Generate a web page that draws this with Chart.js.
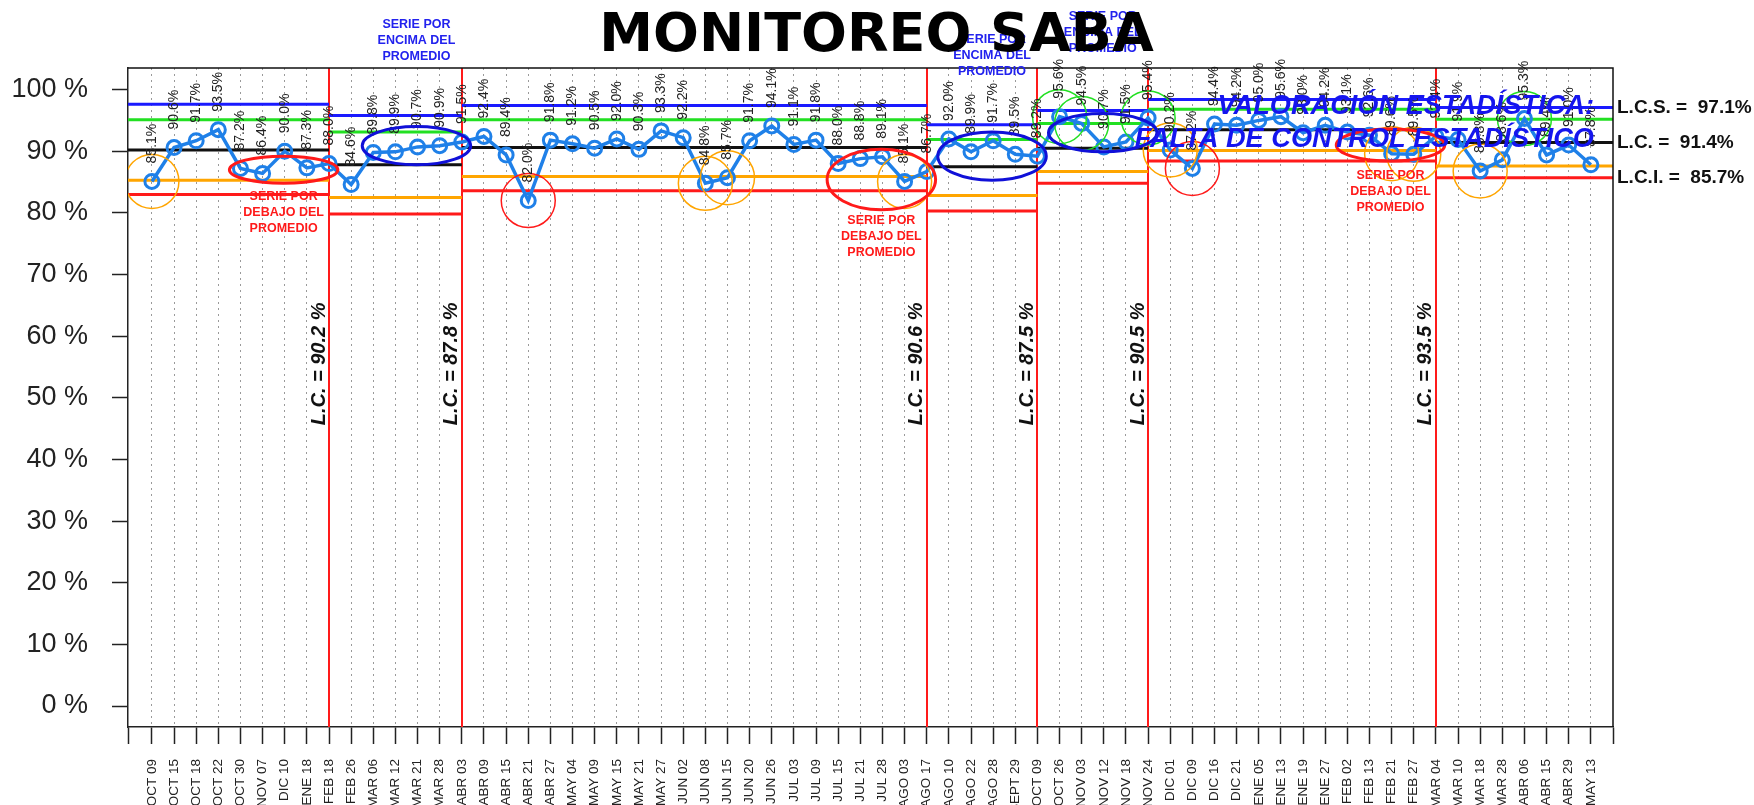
<!DOCTYPE html>
<html>
<head>
<meta charset="utf-8">
<script src="https://cdn.jsdelivr.net/npm/chart.js@4.4.0/dist/chart.umd.min.js"></script>
<style>
  html, body { margin: 0; padding: 0; background: #fff; }
</style>
</head>
<body>
<canvas id="monitoreo" width="1754" height="805"></canvas>
<script>
var fechas = ['OCT 09','OCT 15','OCT 18','OCT 22','OCT 30','NOV 07','DIC 10','ENE 18','FEB 18','FEB 26',
  'MAR 06','MAR 12','MAR 21','MAR 28','ABR 03','ABR 09','ABR 15','ABR 21','ABR 27','MAY 04',
  'MAY 09','MAY 15','MAY 21','MAY 27','JUN 02','JUN 08','JUN 15','JUN 20','JUN 26','JUL 03',
  'JUL 09','JUL 15','JUL 21','JUL 28','AGO 03','AGO 17','AGO 10','AGO 22','AGO 28','SEPT 29',
  'OCT 09','OCT 26','NOV 03','NOV 12','NOV 18','NOV 24','DIC 01','DIC 09','DIC 16','DIC 21',
  'ENE 05','ENE 13','ENE 19','ENE 27','FEB 02','FEB 13','FEB 21','FEB 27','MAR 04','MAR 10',
  'MAR 18','MAR 28','ABR 06','ABR 15','ABR 29','MAY 13'];

var porcentajes = [85.1, 90.6, 91.7, 93.5, 87.2, 86.4, 90.0, 87.3, 88.0, 84.6,
  89.8, 89.9, 90.7, 90.9, 91.5, 92.4, 89.4, 82.0, 91.8, 91.2,
  90.5, 92.0, 90.3, 93.3, 92.2, 84.8, 85.7, 91.7, 94.1, 91.1,
  91.8, 88.0, 88.8, 89.1, 85.1, 86.7, 92.0, 89.9, 91.7, 89.5,
  89.2, 95.6, 94.5, 90.7, 91.5, 95.4, 90.2, 87.2, 94.4, 94.2,
  95.0, 95.6, 93.0, 94.2, 93.1, 92.6, 89.6, 89.5, 92.4, 91.9,
  86.8, 88.6, 95.3, 89.4, 91.0, 87.8];

// cambio de fase: indice de la fecha donde cierra cada tramo
var cortes = [8, 14, 35, 40, 45, 58];
var lcsTramo  = [97.6, 95.8, 97.4, 94.3, 96.6, 98.4, 97.1];
var sup2Tramo = [95.1, 93.1, 95.1, 91.9, 94.5, 96.8, 95.2];
var lcTramo   = [90.2, 87.8, 90.6, 87.5, 90.5, 93.5, 91.4];
var inf2Tramo = [85.3, 82.5, 85.9, 82.8, 86.7, 90.1, 87.6];
var lciTramo  = [83.0, 79.8, 83.6, 80.3, 84.8, 88.4, 85.7];

// puntos señalados
var puntosNaranja = [0, 25, 26, 34, 46, 56, 57, 60];
var puntosRojos = [17, 47];
var puntosVerdes = [41, 42, 45, 62];

var yTicks = [0, 10, 20, 30, 40, 50, 60, 70, 80, 90, 100];

var xMin = -1.08, xMax = 66;
var yMin = -3.4, yMax = 103.5;

var ROJO = '#ff1a1a', AZUL = '#1a1aff', VERDE = '#22e022', NARANJA = '#ffa500', NEGRO = '#111111';
var AZUL_SERIE = '#1f80e8', AZUL_ELIPSE = '#1010d8';
var FUENTE = '"Liberation Sans", Arial, sans-serif';

var txtBajo = ['SERIE POR', 'DEBAJO DEL', 'PROMEDIO'];
var txtEncima = ['SERIE POR', 'ENCIMA DEL', 'PROMEDIO'];

// rachas marcadas con elipse (centro y alto en % del eje)
var elipses = [
  { desde: 4,  hasta: 8,  centro: 87.0, alto: 2.2, color: ROJO, lineas: txtBajo, textoEn: 82.6 },
  { desde: 10, hasta: 14, centro: 90.9, alto: 3.1, color: AZUL_ELIPSE, lineas: txtEncima, textoEn: 110.5 },
  { desde: 31, hasta: 35, centro: 85.4, alto: 4.9, color: ROJO, lineas: txtBajo, textoEn: 78.8 },
  { desde: 36, hasta: 40, centro: 89.2, alto: 3.9, color: AZUL_ELIPSE, lineas: txtEncima, textoEn: 108.1 },
  { desde: 41, hasta: 45, centro: 93.0, alto: 3.1, color: AZUL_ELIPSE, lineas: txtEncima, textoEn: 111.9 },
  { desde: 54, hasta: 58, centro: 91.0, alto: 2.6, color: ROJO, lineas: txtBajo, textoEn: 86.0 }
];

function tramoLinea(valores) {
  var bordes = [xMin].concat(cortes).concat([xMax]);
  var pts = [];
  valores.forEach(function (v, s) {
    pts.push({ x: bordes[s], y: v });
    pts.push({ x: bordes[s + 1], y: v });
    pts.push({ x: bordes[s + 1], y: null });
  });
  return pts;
}

function lineaControl(valores, color) {
  return {
    type: 'line', data: tramoLinea(valores), borderColor: color, borderWidth: 3,
    pointRadius: 0, spanGaps: false, order: 5, borderCapStyle: 'butt'
  };
}

function circulos(indices, color) {
  return {
    type: 'line', showLine: false, order: 0,
    data: indices.map(function (i) { return { x: i, y: porcentajes[i] }; }),
    pointRadius: 27, pointBorderWidth: 1.5, pointBorderColor: color,
    pointBackgroundColor: 'rgba(0,0,0,0)'
  };
}

var anotaciones = {
  id: 'anotaciones',
  beforeDatasetsDraw: function (chart) {
    var ctx = chart.ctx, xs = chart.scales.x, a = chart.chartArea;
    ctx.save();
    ctx.strokeStyle = ROJO;
    ctx.lineWidth = 2;
    cortes.forEach(function (c) {
      var px = Math.round(xs.getPixelForValue(c));
      ctx.beginPath();
      ctx.moveTo(px, a.top);
      ctx.lineTo(px, a.bottom);
      ctx.stroke();
    });
    ctx.restore();
  },
  afterDatasetsDraw: function (chart) {
    var ctx = chart.ctx, xs = chart.scales.x, ys = chart.scales.y, a = chart.chartArea;
    var serie = chart.getDatasetMeta(0).data;
    ctx.save();

    // valores sobre cada punto
    ctx.fillStyle = '#222';
    ctx.font = '14px ' + FUENTE;
    ctx.textAlign = 'left';
    ctx.textBaseline = 'middle';
    serie.forEach(function (p, i) {
      ctx.save();
      ctx.translate(p.x, p.y - 18);
      ctx.rotate(-Math.PI / 2);
      ctx.fillText(porcentajes[i].toFixed(1) + '%', 0, 0);
      ctx.restore();
    });

    // elipses de rachas
    elipses.forEach(function (e) {
      var x1 = xs.getPixelForValue(e.desde - 0.5), x2 = xs.getPixelForValue(e.hasta + 0.4);
      var cy = ys.getPixelForValue(e.centro);
      var ry = ys.getPixelForValue(e.centro - e.alto) - cy;
      ctx.beginPath();
      ctx.ellipse((x1 + x2) / 2, cy, (x2 - x1) / 2, ry, 0, 0, Math.PI * 2);
      ctx.strokeStyle = e.color;
      ctx.lineWidth = 3;
      ctx.stroke();
    });

    // marco superior y derecho
    ctx.strokeStyle = NEGRO;
    ctx.lineWidth = 1.5;
    ctx.beginPath();
    ctx.moveTo(a.left, a.top);
    ctx.lineTo(a.right, a.top);
    ctx.lineTo(a.right, a.bottom);
    ctx.stroke();

    // L.C. de cada tramo, en vertical junto al corte
    ctx.fillStyle = NEGRO;
    ctx.font = 'italic bold 20px ' + FUENTE;
    ctx.textAlign = 'center';
    ctx.textBaseline = 'middle';
    cortes.forEach(function (c, s) {
      ctx.save();
      ctx.translate(xs.getPixelForValue(c) - 10, ys.getPixelForValue(55.5));
      ctx.rotate(-Math.PI / 2);
      ctx.fillText('L.C. = ' + lcTramo[s].toFixed(1) + ' %', 0, 0);
      ctx.restore();
    });

    // limites del tramo actual a la derecha
    var ult = lcTramo.length - 1;
    ctx.font = 'bold 19px ' + FUENTE;
    ctx.textAlign = 'left';
    ctx.fillText('L.C.S. =  ' + lcsTramo[ult].toFixed(1) + '%', a.right + 4, ys.getPixelForValue(lcsTramo[ult]));
    ctx.fillText('L.C. =  ' + lcTramo[ult].toFixed(1) + '%', a.right + 4, ys.getPixelForValue(lcTramo[ult]));
    ctx.fillText('L.C.I. =  ' + lciTramo[ult].toFixed(1) + '%', a.right + 4, ys.getPixelForValue(lciTramo[ult]));

    // valoracion
    ctx.fillStyle = '#1515ee';
    ctx.font = 'italic bold 27.2px ' + FUENTE;
    ctx.textAlign = 'right';
    ctx.fillText('VALORACIÓN ESTADÍSTICA:', a.right - 19, 107);
    ctx.fillText('FALTA DE CONTROL ESTADÍSTICO', a.right - 19, 140);

    // textos de rachas
    ctx.font = 'bold 12.5px ' + FUENTE;
    ctx.textAlign = 'center';
    elipses.forEach(function (e) {
      var cx = xs.getPixelForValue((e.desde - 0.5 + e.hasta + 0.4) / 2);
      var y0 = ys.getPixelForValue(e.textoEn);
      ctx.fillStyle = e.color === ROJO ? ROJO : '#2222ee';
      e.lineas.forEach(function (t, k) { ctx.fillText(t, cx, y0 + k * 16); });
    });

    // titulo
    ctx.fillStyle = '#000';
    ctx.font = 'bold 54px "DejaVu Sans", sans-serif';
    ctx.textAlign = 'center';
    ctx.fillText('MONITOREO SABA', (a.left + a.right) / 2 + 6, 37);

    ctx.restore();
  }
};

var ctx = document.getElementById('monitoreo').getContext('2d');
var grafico = new Chart(ctx, {
  type: 'line',
  data: {
    datasets: [
      {
        data: porcentajes.map(function (v, i) { return { x: i, y: v }; }),
        borderColor: AZUL_SERIE, borderWidth: 3.5, order: 1,
        pointRadius: 7, pointBorderWidth: 3, pointBorderColor: AZUL_SERIE,
        pointBackgroundColor: 'rgba(0,0,0,0)', tension: 0
      },
      circulos(puntosNaranja, NARANJA),
      circulos(puntosRojos, ROJO),
      circulos(puntosVerdes, VERDE),
      lineaControl(lcsTramo, AZUL),
      lineaControl(sup2Tramo, VERDE),
      lineaControl(lcTramo, NEGRO),
      lineaControl(inf2Tramo, NARANJA),
      lineaControl(lciTramo, ROJO)
    ]
  },
  options: {
    responsive: false,
    devicePixelRatio: 1,
    animation: false,
    layout: { padding: { top: 68, right: 141, bottom: 0, left: 0 } },
    plugins: { legend: { display: false }, tooltip: { enabled: false } },
    scales: {
      x: {
        type: 'linear', min: xMin, max: xMax,
        afterBuildTicks: function (s) {
          var t = [{ value: xMin }];
          fechas.forEach(function (f, i) { t.push({ value: i }); });
          t.push({ value: xMax });
          s.ticks = t;
        },
        afterFit: function (s) { s.height = 78; s.paddingLeft = 0; s.paddingRight = 0; },
        ticks: {
          autoSkip: false, minRotation: 90, maxRotation: 90, padding: 15,
          color: '#222', font: { family: FUENTE, size: 13.5 },
          callback: function (v) { return fechas[v] || ''; }
        },
        grid: {
          color: function (c) {
            var v = c.tick ? c.tick.value : -1;
            return (v >= 0 && v < fechas.length) ? '#9a9a9a' : 'rgba(0,0,0,0)';
          },
          lineWidth: 1, tickBorderDash: [],
          tickColor: '#222', tickWidth: 1.5, tickLength: 17
        },
        border: { color: '#222', width: 1.5, dash: [2, 4] }
      },
      y: {
        type: 'linear', min: yMin, max: yMax,
        afterBuildTicks: function (s) { s.ticks = yTicks.map(function (v) { return { value: v }; }); },
        afterFit: function (s) { s.width = 128; s.paddingTop = 0; s.paddingBottom = 0; },
        ticks: {
          padding: 24, color: '#222', font: { family: FUENTE, size: 27 },
          callback: function (v) { return v + ' %'; }
        },
        grid: { drawOnChartArea: false, tickColor: '#222', tickWidth: 1.5, tickLength: 16 },
        border: { color: '#222', width: 1.5 }
      }
    }
  },
  plugins: [anotaciones]
});
</script>
</body>
</html>
